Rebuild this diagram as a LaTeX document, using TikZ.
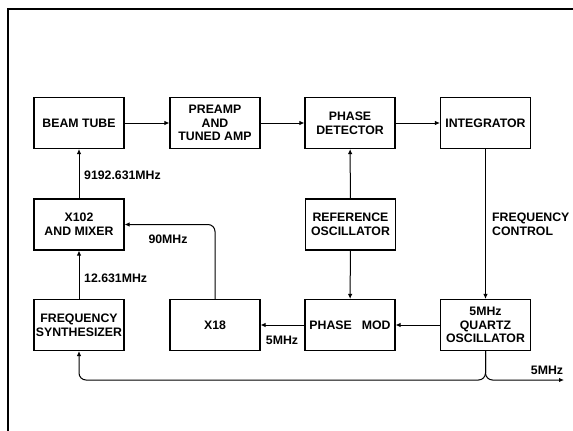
\documentclass[tikz,border=0pt]{standalone}
\usepackage{fontspec}
\setmainfont{Liberation Sans}
\usetikzlibrary{arrows.meta}
\begin{document}
\begin{tikzpicture}[x=1pt,y=-1pt,
  blk/.style={draw, line width=1.1pt, minimum width=90pt, minimum height=51pt, align=center, inner sep=1pt,
    font=\bfseries\fontsize{12.3}{13.7}\selectfont},
  conn/.style={line width=1pt, -{Latex[length=5pt,width=4.5pt]}},
  lbl/.style={font=\bfseries\fontsize{12.3}{13.7}\selectfont, inner sep=1pt}]
\useasboundingbox (0,0) rectangle (573,431);
\draw[line width=1.2pt] (8,431) -- (8,9) -- (573,9);
\node[blk] (beam) at (79,123) {BEAM TUBE};
\node[blk] (preamp) at (215,123) {PREAMP\\AND\\TUNED AMP};
\node[blk] (phdet) at (350,123) {PHASE\\DETECTOR};
\node[blk] (integ) at (485.5,123) {INTEGRATOR};
\node[blk] (x102) at (79,224.5) {X102\\AND MIXER};
\node[blk] (refosc) at (350.5,224.5) {REFERENCE\\OSCILLATOR};
\node[blk] (synth) at (79,325) {FREQUENCY\\SYNTHESIZER};
\node[blk] (x18) at (215,325) {X18};
\node[blk] (phmod) at (350,325) {PHASE\hspace{10pt}MOD};
\node[blk] (quartz) at (485.5,325) {5MHz\\QUARTZ\\OSCILLATOR};
\draw[conn] (beam) -- (preamp);
\draw[conn] (preamp) -- (phdet);
\draw[conn] (phdet) -- (integ);
\draw[conn] (x102) -- (beam);
\draw[conn] (synth) -- (x102);
\draw[conn, rounded corners=7pt] (x18.north) |- (x102.east);
\draw[conn] (refosc) -- (phdet);
\draw[conn] (refosc) -- (phmod);
\draw[conn] (integ) -- (quartz);
\draw[conn] (quartz) -- (phmod);
\draw[conn] (phmod) -- (x18);
\coordinate (out) at (564,380);
\coordinate (bus) at (485.5,380);
\draw[conn, rounded corners=7pt] (quartz.south) -- (bus) -| (synth.south);
\draw[conn, rounded corners=7pt] (quartz.south) |- (out);
\node[lbl, anchor=west] (l1) at (83,175) {9192.631MHz};
\node[lbl, anchor=west] (l2) at (83,278) {12.631MHz};
\node[lbl] (l3) at (168,239) {90MHz};
\node[lbl, anchor=west, align=left] (l4) at (491,224.5) {FREQUENCY\\CONTROL};
\node[lbl] (l5) at (282,340) {5MHz};
\node[lbl] (l6) at (547,370) {5MHz};
\end{tikzpicture}
\end{document}
